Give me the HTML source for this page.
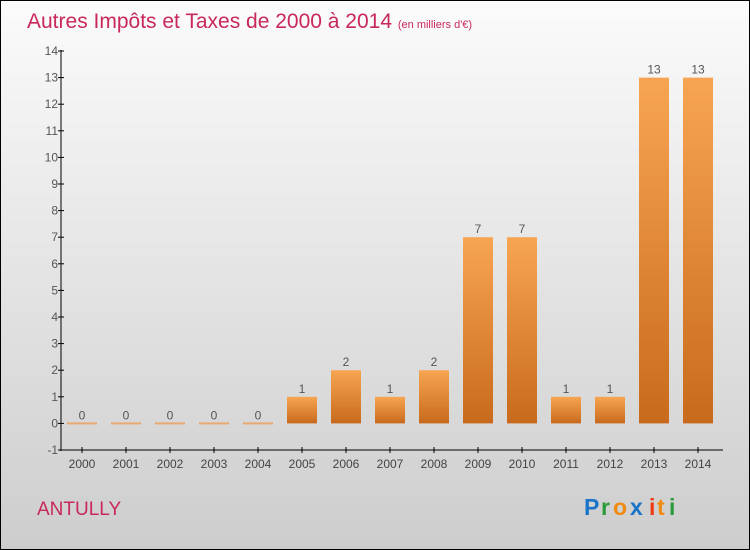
<!DOCTYPE html>
<html><head><meta charset="utf-8"><style>
body{margin:0}
#c{position:relative;width:748px;height:548px;border:1px solid #000;background:linear-gradient(#fbfbfb,#cdcdcd);font-family:"Liberation Sans",sans-serif;overflow:hidden}
</style></head><body>
<div id="c">
<svg width="748" height="548" id="s">
<defs><linearGradient id="g" x1="0" y1="0" x2="0" y2="1"><stop offset="0" stop-color="#f7a553"/><stop offset="1" stop-color="#c86a1c"/></linearGradient></defs>
<text x="26" y="27" font-size="21" fill="#c8285a">Autres Impôts et Taxes de 2000 à 2014 <tspan font-size="11">(en milliers d'€)</tspan></text>
<text x="36" y="514" font-size="19" fill="#c8285a">ANTULLY</text>
<g font-size="23" font-weight="bold">
<text x="583" y="514" fill="#1a74c8">P</text><text x="600" y="514" fill="#2a9a3a">r</text><text x="612" y="514" fill="#f08a10">o</text><text x="629" y="514" fill="#1a74c8">x</text><text x="648" y="514" fill="#f03a10">i</text><text x="656" y="514" fill="#f08a10">t</text><text x="668" y="514" fill="#2a9a3a">i</text></g>
<g id="plot"></g>
</svg></div>
<script>
const years=["2000","2001","2002","2003","2004","2005","2006","2007","2008","2009","2010","2011","2012","2013","2014"];
const values=[0,0,0,0,0,1,2,1,2,7,7,1,1,13,13];
const yTicks=[-1,0,1,2,3,4,5,6,7,8,9,10,11,12,13,14];
const ns="http://www.w3.org/2000/svg";
const p=document.getElementById('plot');
const y=v=>449-(v+1)*(399/15);
const x=i=>81+i*44;
function el(t,a,txt){const e=document.createElementNS(ns,t);for(const k in a)e.setAttribute(k,a[k]);if(txt!==undefined)e.textContent=txt;p.appendChild(e);return e;}
let ax=el('line',{x1:60,y1:49,x2:60,y2:450,stroke:'#000'});


let bx=el('line',{x1:60,y1:449,x2:722,y2:449,stroke:'#000'});


yTicks.forEach(v=>{
 el('line',{x1:57,x2:63,y1:y(v),y2:y(v),stroke:'#000'});
 const t=el('text',{x:57,y:y(v)+4,'text-anchor':'end','font-size':12,fill:'#555'},v);
 
 
});
years.forEach((yr,i)=>{
 el('line',{x1:x(i),x2:x(i),y1:446,y2:452,stroke:'#000'});
 const t=el('text',{x:x(i),y:467,'text-anchor':'middle','font-size':12,fill:'#444'},yr);
 
 
 const v=values[i];
 const top=y(v),h=Math.max(2,y(0)-top);
 const r=el('rect',{x:x(i)-15,y:v>0?top:y(0)-1,width:30,height:h,fill:v>0?'url(#g)':'#e8a870'});
 
 
 const l=el('text',{x:x(i),y:top-4,'text-anchor':'middle','font-size':12,fill:'#555'},v);
 
 
});
</script>
</body></html>
